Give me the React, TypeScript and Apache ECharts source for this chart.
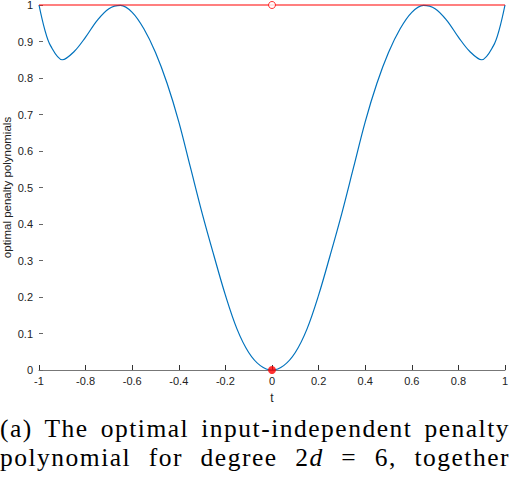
import * as echarts from 'echarts';
import { useEffect, useRef } from 'react';

// t grid and penalty polynomial values
const tValues = [
  -1, -0.975, -0.95, -0.9, -0.85, -0.8, -0.75, -0.7, -0.65, -0.6, -0.55, -0.5, -0.45, -0.4, -0.35, -0.3,
  -0.25, -0.2, -0.15, -0.1, -0.05, 0, 0.05, 0.1, 0.15, 0.2, 0.25, 0.3, 0.35, 0.4, 0.45, 0.5, 0.55,
  0.6, 0.65, 0.7, 0.75, 0.8, 0.85, 0.9, 0.95, 0.975, 1,
];
const penaltyValues = [
  1, 0.932, 0.888, 0.85, 0.872, 0.912, 0.958, 0.99, 0.999, 0.98, 0.935, 0.87, 0.785, 0.68, 0.555, 0.43,
  0.315, 0.205, 0.112, 0.048, 0.012, 0, 0.012, 0.048, 0.112, 0.205, 0.315, 0.43, 0.555, 0.68, 0.785, 0.87, 0.935,
  0.98, 0.999, 0.99, 0.958, 0.912, 0.872, 0.85, 0.888, 0.932, 1,
];
const boundT = [-1, 1];
const boundValues = [1, 1];
const openPoint = [0, 1];
const filledPoint = [0, 0];

const xTicks = { min: -1, max: 1, interval: 0.2 };
const yTicks = { min: 0, max: 1, interval: 0.1 };

function PenaltyChart() {
  const chartRef = useRef<HTMLDivElement>(null);

  useEffect(() => {
    if (!chartRef.current) return;
    const chart = echarts.init(chartRef.current, null, { renderer: 'svg' });

    const font = 'Liberation Sans, Arial, sans-serif';
    chart.setOption({
      animation: false,
      grid: {
        left: 39,
        right: 5,
        top: 5,
        bottom: 40,
        containLabel: false,
        outerBoundsMode: 'none',
      },
      xAxis: {
        type: 'value',
        ...xTicks,
        name: 't',
        nameLocation: 'middle',
        nameGap: 22,
        nameTextStyle: { fontFamily: font, fontSize: 12, color: '#222' },
        axisLine: { show: true, onZero: false, lineStyle: { color: '#777', width: 1 } },
        axisTick: { show: true, inside: true, length: 5, lineStyle: { color: '#333' } },
        axisLabel: { fontFamily: font, fontSize: 11, color: '#222', margin: 5 },
        splitLine: { show: false },
      },
      yAxis: {
        type: 'value',
        ...yTicks,
        name: 'optimal penalty polynomials',
        nameLocation: 'middle',
        nameGap: 26,
        nameMoveOverlap: false,
        nameTextStyle: { fontFamily: font, fontSize: 11.5, color: '#222' },
        axisLine: { show: false, onZero: false },
        axisTick: { show: true, inside: true, length: 4, lineStyle: { color: '#666' } },
        axisLabel: { fontFamily: font, fontSize: 11, lineHeight: 9, color: '#222', margin: 6 },
        splitLine: { show: false },
      },
      series: [
        {
          name: 'penalty',
          type: 'line',
          data: tValues.map((t, i) => [t, penaltyValues[i]]),
          smooth: 0.35,
          showSymbol: false,
          clip: false,
          lineStyle: { color: '#0072BD', width: 1.2 },
        },
        {
          name: 'bound',
          type: 'line',
          data: boundT.map((t, i) => [t, boundValues[i]]),
          showSymbol: false,
          clip: false,
          lineStyle: { color: '#FF0000', width: 1.2 },
        },
        {
          name: 'open',
          type: 'scatter',
          data: [openPoint],
          symbol: 'circle',
          symbolSize: 7,
          clip: false,
          itemStyle: { color: '#fff', borderColor: '#FF0000', borderWidth: 1 },
          z: 5,
        },
        {
          name: 'filled',
          type: 'scatter',
          data: [filledPoint],
          symbol: 'circle',
          symbolSize: 8,
          clip: false,
          itemStyle: { color: '#FF0000' },
          z: 5,
        },
      ],
    });

    return () => chart.dispose();
  }, []);

  return <div ref={chartRef} style={{ width: 510, height: 410 }} />;
}

export default function App() {
  const lineStyle: React.CSSProperties = {
    textAlign: 'justify',
    textAlignLast: 'justify',
    whiteSpace: 'nowrap',
    height: 29,
  };
  return (
    <div
      style={{
        position: 'absolute',
        left: 0,
        top: 0,
        width: 510,
        height: 480,
        background: '#fff',
        overflow: 'hidden',
      }}
    >
      <PenaltyChart />
      <div
        style={{
          position: 'absolute',
          left: 0,
          top: 414,
          width: 510,
          fontFamily: 'Liberation Serif, serif',
          fontSize: 25.5,
          letterSpacing: 1.5,
          lineHeight: '29px',
          color: '#000',
        }}
      >
        <div style={lineStyle}>(a) The optimal input-independent penalty</div>
        <div style={lineStyle}>
          polynomial for degree 2<i>d</i> = 6, together
        </div>
      </div>
    </div>
  );
}
